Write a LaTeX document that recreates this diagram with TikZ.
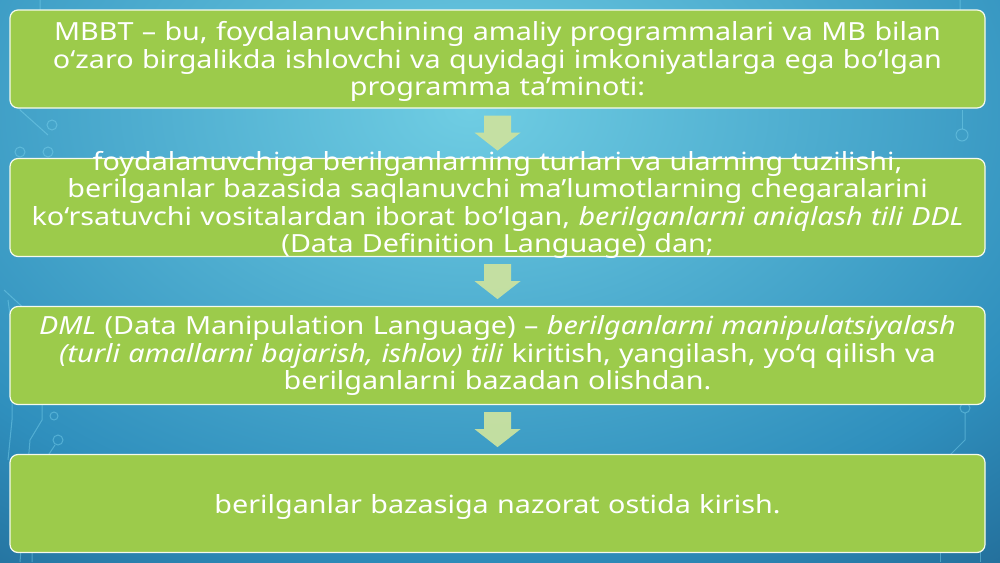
\documentclass[tikz,border=0pt]{standalone}
\usepackage{fontspec}
\setmainfont{Noto Sans}[FakeStretch=1.15]
\usetikzlibrary{calc}
\definecolor{bglight}{HTML}{6FCDE3}
\definecolor{bgmid}{HTML}{2F8FBD}
\definecolor{bgdark}{HTML}{0B2A52}
\definecolor{boxgreen}{HTML}{9CCB4B}
\definecolor{arrowgreen}{HTML}{CAE2A0}
\definecolor{circuit}{HTML}{7FD6F0}
\pgfdeclareradialshading{bgshade}{\pgfpoint{0bp}{0bp}}{color(0bp)=(bglight); color(12bp)=(bgmid); color(25bp)=(bgdark); color(50bp)=(bgdark)}
\tikzset{
  x=1pt, y=-1pt,
  stepbox/.style={draw=white!90!boxgreen, line width=1.2pt, fill=boxgreen, rounded corners=8pt,
    minimum width=975pt, minimum height=98pt, inner sep=0pt},
  boxtext/.style={text=white, align=center, text width=990pt, inner sep=0pt,
    font=\fontsize{25pt}{27.5pt}\selectfont},
  flowarrow/.style={fill=arrowgreen, draw=none, opacity=0.95},
  circ/.style={draw=circuit, line width=1pt, opacity=0.45}
}
\newcommand\dnarrowblk[1]{%
  \fill[flowarrow] ($(#1)+(-13.5,7)$) -- ($(#1)+(13.5,7)$) -- ($(#1)+(13.5,24)$) -- ($(#1)+(23,24)$)
     -- ($(#1)+(0,42)$) -- ($(#1)+(-23,24)$) -- ($(#1)+(-13.5,24)$) -- cycle;}
\begin{document}
\begin{tikzpicture}
\useasboundingbox (0,0) rectangle (1000,562);
% background
\begin{scope}
  \clip (0,0) rectangle (1000,562);
  \fill[bgdark] (0,0) rectangle (1000,562);
  \shade[shading=bgshade] (470,110) ellipse [x radius=1350, y radius=900];
  % circuit decorations
  \draw[circ] (40,0) -- (40,60) -- (70,100);
  \draw[circ] (20,40) -- (20,110) -- (48,135);
  \draw[circ] (52,125) circle (5);
  \draw[circ] (20,152) circle (5);
  \draw[circ] (48,152) circle (5);
  \draw[circ] (8,300) -- (12,330) -- (12,420) -- (8,460);
  \draw[circ] (4,290) -- (28,312);
  \draw[circ] (58,440) circle (5);
  \draw[circ] (54,416) circle (4);
  \draw[circ] (55,445) -- (32,480) -- (32,562);
  \draw[circ] (42,405) -- (42,420) -- (30,440) -- (20,562);
  \draw[circ] (960,0) -- (960,20) -- (950,35);
  \draw[circ] (962,135) circle (6);
  \draw[circ] (962,110) -- (962,129);
  \draw[circ] (965,408) circle (5);
  \draw[circ] (965,413) -- (965,440) -- (945,460);
  \draw[circ] (980,545) -- (980,562);
  \draw[circ] (940,548) -- (940,562);
\end{scope}
% boxes
\node[stepbox] (b1) at (497.5,59) {};
\node[stepbox] (b2) at (497.5,207.5) {};
\node[stepbox] (b3) at (497.5,355.5) {};
\node[stepbox] (b4) at (497.5,503.5) {};
% arrows
\dnarrowblk{b1.south}
\dnarrowblk{b2.south}
\dnarrowblk{b3.south}
% texts
\node[boxtext] (t1) at ($(b1.center)+(0,2.5)$) {MBBT – bu, foydalanuvchining amaliy programmalari va MB bilan\\ o‘zaro birgalikda ishlovchi va quyidagi imkoniyatlarga ega bo‘lgan\\ programma ta’minoti:};
\node[boxtext] (t2) at ($(b2.center)+(0,-2.5)$) {foydalanuvchiga berilganlarning turlari va ularning tuzilishi,\\ berilganlar bazasida saqlanuvchi ma’lumotlarning chegaralarini\\ ko‘rsatuvchi vositalardan iborat bo‘lgan, \textit{berilganlarni aniqlash tili DDL}\\ (Data Definition Language) dan;};
\node[boxtext] (t3) at (b3.center) {\textit{DML} (Data Manipulation Language) – \textit{berilganlarni manipulatsiyalash}\\ \textit{(turli amallarni bajarish, ishlov) tili} kiritish, yangilash, yo‘q qilish va\\ berilganlarni bazadan olishdan.};
\node[boxtext] (t4) at ($(b4.center)+(0,3)$) {berilganlar bazasiga nazorat ostida kirish.};
\end{tikzpicture}
\end{document}
